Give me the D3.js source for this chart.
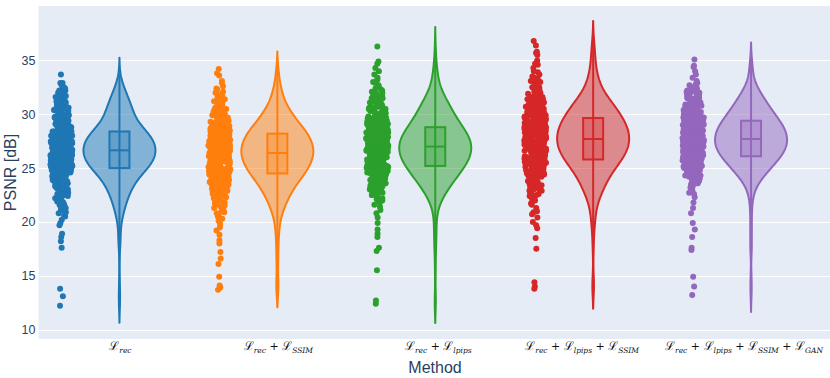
<!DOCTYPE html>
<html>
<head>
<meta charset="utf-8">
<script src="https://cdn.jsdelivr.net/npm/d3@7"></script>
<style>
body { margin: 0; background: #fff; }
svg { display: block; }
</style>
</head>
<body>
<div id="chart"></div>
<script>
// method names: each is a sum of loss terms, drawn as subscripts of a script L
var methods = ["rec", "rec+SSIM", "rec+lpips", "rec+lpips+SSIM", "rec+lpips+SSIM+GAN"];
var colors = ["#1f77b4", "#ff7f0e", "#2ca02c", "#d62728", "#9467bd"];
var yTicks = [10, 15, 20, 25, 30, 35];

var psnrRec = [
  12.2, 13.1, 13.8, 17.6, 18.2, 18.6, 18.9, 19.7, 19.9,
  20.2, 20.5, 20.6, 20.8, 20.9,
  21.0, 21.1, 21.3, 21.4, 21.5, 21.6, 21.6, 21.7, 21.8, 21.9, 21.9,
  22.0, 22.1, 22.2, 22.3, 22.3, 22.4, 22.5, 22.5, 22.6, 22.6, 22.7, 22.7, 22.8, 22.8, 22.9, 22.9,
  23.0, 23.0, 23.1, 23.1, 23.2, 23.2, 23.2, 23.3, 23.3, 23.4, 23.4, 23.4, 23.5, 23.5, 23.6, 23.6, 23.6, 23.7, 23.7,
  23.8, 23.8, 23.8, 23.9, 23.9,
  24.0, 24.0, 24.0, 24.1, 24.1, 24.1, 24.1, 24.2, 24.2, 24.2, 24.2, 24.3, 24.3, 24.3, 24.3, 24.3, 24.4, 24.4, 24.4, 24.4,
  24.5, 24.5, 24.5, 24.6, 24.6, 24.6, 24.6, 24.7, 24.7, 24.7, 24.7, 24.7, 24.8, 24.8, 24.8, 24.8, 24.9, 24.9, 24.9, 24.9,
  25.0, 25.0, 25.0, 25.0, 25.0, 25.1, 25.1, 25.1, 25.1, 25.1, 25.1, 25.2, 25.2, 25.2, 25.2, 25.2, 25.2,
  25.3, 25.3, 25.3, 25.3, 25.3, 25.3, 25.3, 25.4, 25.4, 25.4, 25.4, 25.4, 25.4, 25.5, 25.5, 25.5, 25.5, 25.5,
  25.6, 25.6, 25.6, 25.6, 25.6, 25.6, 25.7, 25.7, 25.7, 25.7, 25.7, 25.7, 25.7, 25.8, 25.8, 25.8, 25.8, 25.8, 25.8,
  25.9, 25.9, 25.9, 25.9, 25.9, 25.9,
  26.0, 26.0, 26.0, 26.0, 26.0, 26.0, 26.1, 26.1, 26.1, 26.1, 26.1, 26.1, 26.1, 26.2, 26.2, 26.2, 26.2, 26.2, 26.2, 26.2,
  26.3, 26.3, 26.3, 26.3, 26.3, 26.3, 26.4, 26.4, 26.4, 26.4, 26.4, 26.4, 26.4, 26.5, 26.5, 26.5, 26.5, 26.5, 26.5,
  26.6, 26.6, 26.6, 26.6, 26.6, 26.6, 26.6, 26.7, 26.7, 26.7, 26.7, 26.7, 26.7, 26.7, 26.8, 26.8, 26.8, 26.8, 26.8, 26.8,
  26.9, 26.9, 26.9, 26.9, 26.9, 26.9, 26.9,
  27.0, 27.0, 27.0, 27.0, 27.0, 27.0, 27.0, 27.1, 27.1, 27.1, 27.1, 27.1, 27.1, 27.2, 27.2, 27.2, 27.2, 27.2, 27.2, 27.2,
  27.3, 27.3, 27.3, 27.3, 27.3, 27.3, 27.4, 27.4, 27.4, 27.4, 27.4, 27.4, 27.5, 27.5, 27.5, 27.5, 27.5, 27.5, 27.5,
  27.6, 27.6, 27.6, 27.6, 27.6, 27.6, 27.7, 27.7, 27.7, 27.7, 27.7, 27.7, 27.8, 27.8, 27.8, 27.8, 27.8, 27.8, 27.8,
  27.9, 27.9, 27.9, 27.9, 27.9, 27.9,
  28.0, 28.0, 28.0, 28.0, 28.0, 28.1, 28.1, 28.1, 28.1, 28.1, 28.2, 28.2, 28.2, 28.2, 28.2, 28.3, 28.3, 28.3, 28.3, 28.3,
  28.4, 28.4, 28.4, 28.4, 28.4, 28.5, 28.5, 28.5, 28.5, 28.5, 28.6, 28.6, 28.6, 28.6, 28.6, 28.7, 28.7, 28.7, 28.7,
  28.8, 28.8, 28.8, 28.8, 28.9, 28.9, 28.9, 28.9, 28.9,
  29.0, 29.0, 29.0, 29.1, 29.1, 29.1, 29.2, 29.2, 29.2, 29.3, 29.3, 29.3, 29.4, 29.4, 29.4, 29.5, 29.5, 29.5,
  29.6, 29.6, 29.7, 29.7, 29.7, 29.8, 29.8, 29.9, 29.9, 29.9,
  30.0, 30.0, 30.0, 30.1, 30.1, 30.2, 30.2, 30.2, 30.3, 30.3, 30.4, 30.4, 30.4, 30.5, 30.5, 30.6, 30.6, 30.6,
  30.7, 30.7, 30.8, 30.8, 30.9, 30.9,
  31.0, 31.0, 31.1, 31.1, 31.2, 31.2, 31.3, 31.4, 31.4, 31.5, 31.5, 31.6, 31.7, 31.7, 31.8, 31.9,
  32.0, 32.1, 32.2, 32.2, 32.3, 32.4, 32.5, 32.7, 32.9, 32.9,
  33.7
];
var psnrRecSsim = [
  13.7, 13.9, 14.1, 14.9, 16.1, 16.6, 17.2, 18.0, 18.3, 18.8, 19.2, 19.5, 19.8,
  20.1, 20.3, 20.5, 20.6, 20.8, 20.9,
  21.0, 21.1, 21.2, 21.3, 21.4, 21.5, 21.6, 21.6, 21.7, 21.8, 21.9, 21.9,
  22.0, 22.0, 22.1, 22.2, 22.2, 22.3, 22.3, 22.4, 22.4, 22.4, 22.5, 22.5, 22.6, 22.6, 22.7, 22.7, 22.8, 22.8,
  22.9, 22.9,
  23.0, 23.0, 23.0, 23.1, 23.1, 23.1, 23.2, 23.2, 23.2, 23.3, 23.3, 23.4, 23.4, 23.4, 23.5, 23.5, 23.5,
  23.6, 23.6, 23.6, 23.6, 23.7, 23.7, 23.7, 23.8, 23.8, 23.8, 23.9, 23.9, 23.9,
  24.0, 24.0, 24.0, 24.0, 24.1, 24.1, 24.1, 24.1, 24.1, 24.2, 24.2, 24.2, 24.2, 24.3, 24.3, 24.3, 24.3, 24.3,
  24.4, 24.4, 24.4, 24.4, 24.4, 24.5, 24.5, 24.5, 24.5, 24.6, 24.6, 24.6, 24.6, 24.6, 24.7, 24.7, 24.7, 24.7, 24.7,
  24.8, 24.8, 24.8, 24.8, 24.9, 24.9, 24.9, 24.9, 24.9,
  25.0, 25.0, 25.0, 25.0, 25.0, 25.1, 25.1, 25.1, 25.1, 25.1, 25.1, 25.2, 25.2, 25.2, 25.2, 25.2,
  25.3, 25.3, 25.3, 25.3, 25.3, 25.3, 25.4, 25.4, 25.4, 25.4, 25.4, 25.4, 25.5, 25.5, 25.5, 25.5, 25.5,
  25.6, 25.6, 25.6, 25.6, 25.6, 25.6, 25.7, 25.7, 25.7, 25.7, 25.7, 25.7, 25.8, 25.8, 25.8, 25.8, 25.8,
  25.9, 25.9, 25.9, 25.9, 25.9, 25.9,
  26.0, 26.0, 26.0, 26.0, 26.0, 26.0, 26.1, 26.1, 26.1, 26.1, 26.1, 26.1, 26.2, 26.2, 26.2, 26.2, 26.2, 26.2, 26.2,
  26.3, 26.3, 26.3, 26.3, 26.3, 26.3, 26.4, 26.4, 26.4, 26.4, 26.4, 26.4, 26.5, 26.5, 26.5, 26.5, 26.5, 26.5,
  26.6, 26.6, 26.6, 26.6, 26.6, 26.6, 26.6, 26.7, 26.7, 26.7, 26.7, 26.7, 26.7, 26.8, 26.8, 26.8, 26.8, 26.8, 26.8,
  26.9, 26.9, 26.9, 26.9, 26.9, 26.9,
  27.0, 27.0, 27.0, 27.0, 27.0, 27.0, 27.1, 27.1, 27.1, 27.1, 27.1, 27.1, 27.2, 27.2, 27.2, 27.2, 27.2, 27.2,
  27.3, 27.3, 27.3, 27.3, 27.3, 27.3, 27.4, 27.4, 27.4, 27.4, 27.4, 27.5, 27.5, 27.5, 27.5, 27.5, 27.5,
  27.6, 27.6, 27.6, 27.6, 27.6, 27.6, 27.7, 27.7, 27.7, 27.7, 27.7, 27.7, 27.8, 27.8, 27.8, 27.8, 27.8,
  27.9, 27.9, 27.9, 27.9, 27.9, 27.9,
  28.0, 28.0, 28.0, 28.0, 28.0, 28.1, 28.1, 28.1, 28.1, 28.1, 28.2, 28.2, 28.2, 28.2, 28.2, 28.3, 28.3, 28.3, 28.3, 28.3,
  28.4, 28.4, 28.4, 28.4, 28.4, 28.5, 28.5, 28.5, 28.5, 28.5, 28.6, 28.6, 28.6, 28.6, 28.6, 28.7, 28.7, 28.7, 28.7,
  28.8, 28.8, 28.8, 28.8, 28.9, 28.9, 28.9, 28.9, 28.9,
  29.0, 29.0, 29.0, 29.0, 29.1, 29.1, 29.1, 29.2, 29.2, 29.2, 29.2, 29.3, 29.3, 29.3, 29.4, 29.4, 29.4,
  29.5, 29.5, 29.5, 29.6, 29.6, 29.6, 29.7, 29.7, 29.8, 29.8, 29.8, 29.9, 29.9, 29.9,
  30.0, 30.0, 30.0, 30.1, 30.1, 30.2, 30.2, 30.3, 30.3, 30.4, 30.4, 30.5, 30.5, 30.6, 30.6, 30.7, 30.7, 30.8, 30.8,
  30.9,
  31.0, 31.1, 31.2, 31.3, 31.4, 31.5, 31.6, 31.7, 31.8, 31.9,
  32.0, 32.1, 32.3, 32.4, 32.6, 32.9,
  33.1, 33.6, 33.8, 34.2
];
var psnrRecLpips = [
  12.4, 12.7, 15.5, 17.3, 17.6, 18.6, 18.9, 19.3, 19.9,
  20.4, 20.8,
  21.1, 21.4, 21.6, 21.8, 21.9,
  22.0, 22.1, 22.2, 22.3, 22.3, 22.4, 22.5, 22.5, 22.6, 22.7, 22.7, 22.8, 22.9, 22.9,
  23.0, 23.0, 23.1, 23.1, 23.1, 23.2, 23.2, 23.3, 23.3, 23.3, 23.4, 23.4, 23.4, 23.5, 23.5, 23.6, 23.6, 23.6,
  23.7, 23.7, 23.7, 23.8, 23.8, 23.9, 23.9, 23.9,
  24.0, 24.0, 24.0, 24.1, 24.1, 24.1, 24.1, 24.2, 24.2, 24.2, 24.2, 24.3, 24.3, 24.3, 24.3, 24.3, 24.4, 24.4, 24.4, 24.4,
  24.5, 24.5, 24.5, 24.5, 24.6, 24.6, 24.6, 24.6, 24.7, 24.7, 24.7, 24.7, 24.8, 24.8, 24.8, 24.8, 24.9, 24.9, 24.9, 24.9,
  25.0, 25.0, 25.0, 25.0, 25.0, 25.1, 25.1, 25.1, 25.1, 25.1, 25.2, 25.2, 25.2, 25.2, 25.2, 25.2,
  25.3, 25.3, 25.3, 25.3, 25.3, 25.4, 25.4, 25.4, 25.4, 25.4, 25.4, 25.5, 25.5, 25.5, 25.5, 25.5,
  25.6, 25.6, 25.6, 25.6, 25.6, 25.6, 25.7, 25.7, 25.7, 25.7, 25.7, 25.8, 25.8, 25.8, 25.8, 25.8, 25.8,
  25.9, 25.9, 25.9, 25.9, 25.9,
  26.0, 26.0, 26.0, 26.0, 26.0, 26.0, 26.1, 26.1, 26.1, 26.1, 26.1, 26.1, 26.2, 26.2, 26.2, 26.2, 26.2, 26.2, 26.2,
  26.3, 26.3, 26.3, 26.3, 26.3, 26.3, 26.4, 26.4, 26.4, 26.4, 26.4, 26.4, 26.5, 26.5, 26.5, 26.5, 26.5, 26.5,
  26.6, 26.6, 26.6, 26.6, 26.6, 26.6, 26.6, 26.7, 26.7, 26.7, 26.7, 26.7, 26.7, 26.8, 26.8, 26.8, 26.8, 26.8, 26.8,
  26.9, 26.9, 26.9, 26.9, 26.9, 26.9,
  27.0, 27.0, 27.0, 27.0, 27.0, 27.0, 27.1, 27.1, 27.1, 27.1, 27.1, 27.1, 27.1, 27.2, 27.2, 27.2, 27.2, 27.2, 27.2,
  27.3, 27.3, 27.3, 27.3, 27.3, 27.3, 27.4, 27.4, 27.4, 27.4, 27.4, 27.4, 27.5, 27.5, 27.5, 27.5, 27.5, 27.5, 27.5,
  27.6, 27.6, 27.6, 27.6, 27.6, 27.6, 27.7, 27.7, 27.7, 27.7, 27.7, 27.7, 27.8, 27.8, 27.8, 27.8, 27.8, 27.8,
  27.9, 27.9, 27.9, 27.9, 27.9, 27.9,
  28.0, 28.0, 28.0, 28.0, 28.0, 28.0, 28.1, 28.1, 28.1, 28.1, 28.1, 28.2, 28.2, 28.2, 28.2, 28.2, 28.3, 28.3, 28.3, 28.3,
  28.3, 28.4, 28.4, 28.4, 28.4, 28.4, 28.4, 28.5, 28.5, 28.5, 28.5, 28.5, 28.6, 28.6, 28.6, 28.6, 28.6,
  28.7, 28.7, 28.7, 28.7, 28.7, 28.8, 28.8, 28.8, 28.8, 28.8, 28.9, 28.9, 28.9, 28.9, 28.9,
  29.0, 29.0, 29.0, 29.0, 29.1, 29.1, 29.1, 29.1, 29.2, 29.2, 29.2, 29.2, 29.3, 29.3, 29.3, 29.4, 29.4, 29.4, 29.4,
  29.5, 29.5, 29.5, 29.6, 29.6, 29.6, 29.6, 29.7, 29.7, 29.7, 29.8, 29.8, 29.8, 29.8, 29.9, 29.9, 29.9,
  30.0, 30.0, 30.0, 30.1, 30.1, 30.1, 30.2, 30.2, 30.2, 30.3, 30.3, 30.3, 30.4, 30.4, 30.4, 30.5, 30.5, 30.5,
  30.6, 30.6, 30.6, 30.7, 30.7, 30.7, 30.8, 30.8, 30.9, 30.9,
  31.0, 31.0, 31.1, 31.1, 31.2, 31.2, 31.3, 31.3, 31.4, 31.4, 31.5, 31.5, 31.6, 31.6, 31.7, 31.7, 31.8, 31.9,
  32.0, 32.1, 32.2, 32.3, 32.4, 32.6, 32.7, 32.9,
  33.0, 33.2, 33.4, 33.7, 34.0, 34.3, 34.7, 34.9, 36.3
];
var psnrRecLpipsSsim = [
  13.8, 14.0, 14.4, 17.5, 18.5, 19.4, 19.7,
  20.0, 20.4, 20.7, 20.9,
  21.0, 21.3, 21.6, 21.7, 21.9,
  22.0, 22.1, 22.3, 22.4, 22.5, 22.5, 22.6, 22.7, 22.8, 22.8, 22.9, 22.9,
  23.0, 23.0, 23.1, 23.1, 23.2, 23.2, 23.3, 23.4, 23.4, 23.5, 23.5, 23.6, 23.6, 23.7, 23.8, 23.8, 23.9, 23.9,
  24.0, 24.0, 24.0, 24.1, 24.1, 24.1, 24.2, 24.2, 24.2, 24.3, 24.3, 24.4, 24.4, 24.4, 24.5, 24.5, 24.5,
  24.6, 24.6, 24.6, 24.7, 24.7, 24.8, 24.8, 24.8, 24.9, 24.9, 24.9,
  25.0, 25.0, 25.0, 25.0, 25.1, 25.1, 25.1, 25.1, 25.2, 25.2, 25.2, 25.2, 25.3, 25.3, 25.3, 25.3,
  25.4, 25.4, 25.4, 25.4, 25.4, 25.5, 25.5, 25.5, 25.5, 25.6, 25.6, 25.6, 25.6, 25.7, 25.7, 25.7, 25.7,
  25.8, 25.8, 25.8, 25.8, 25.8, 25.9, 25.9, 25.9, 25.9,
  26.0, 26.0, 26.0, 26.0, 26.0, 26.1, 26.1, 26.1, 26.1, 26.1, 26.1, 26.2, 26.2, 26.2, 26.2, 26.2,
  26.3, 26.3, 26.3, 26.3, 26.3, 26.3, 26.4, 26.4, 26.4, 26.4, 26.4, 26.5, 26.5, 26.5, 26.5, 26.5, 26.5,
  26.6, 26.6, 26.6, 26.6, 26.6, 26.7, 26.7, 26.7, 26.7, 26.7, 26.7, 26.8, 26.8, 26.8, 26.8, 26.8,
  26.9, 26.9, 26.9, 26.9, 26.9,
  27.0, 27.0, 27.0, 27.0, 27.0, 27.0, 27.1, 27.1, 27.1, 27.1, 27.1, 27.1, 27.2, 27.2, 27.2, 27.2, 27.2, 27.2, 27.2,
  27.3, 27.3, 27.3, 27.3, 27.3, 27.3, 27.4, 27.4, 27.4, 27.4, 27.4, 27.5, 27.5, 27.5, 27.5, 27.5, 27.5,
  27.6, 27.6, 27.6, 27.6, 27.6, 27.6, 27.7, 27.7, 27.7, 27.7, 27.7, 27.7, 27.8, 27.8, 27.8, 27.8, 27.8, 27.8,
  27.9, 27.9, 27.9, 27.9, 27.9, 27.9,
  28.0, 28.0, 28.0, 28.0, 28.0, 28.0, 28.1, 28.1, 28.1, 28.1, 28.1, 28.1, 28.2, 28.2, 28.2, 28.2, 28.2, 28.2,
  28.3, 28.3, 28.3, 28.3, 28.3, 28.4, 28.4, 28.4, 28.4, 28.4, 28.4, 28.5, 28.5, 28.5, 28.5, 28.5, 28.5,
  28.6, 28.6, 28.6, 28.6, 28.6, 28.6, 28.7, 28.7, 28.7, 28.7, 28.7, 28.8, 28.8, 28.8, 28.8, 28.8, 28.8,
  28.9, 28.9, 28.9, 28.9, 28.9, 28.9,
  29.0, 29.0, 29.0, 29.0, 29.0, 29.1, 29.1, 29.1, 29.1, 29.1, 29.1, 29.2, 29.2, 29.2, 29.2, 29.2,
  29.3, 29.3, 29.3, 29.3, 29.3, 29.4, 29.4, 29.4, 29.4, 29.5, 29.5, 29.5, 29.5, 29.5,
  29.6, 29.6, 29.6, 29.6, 29.6, 29.7, 29.7, 29.7, 29.7, 29.7, 29.8, 29.8, 29.8, 29.8, 29.8,
  29.9, 29.9, 29.9, 29.9, 29.9,
  30.0, 30.0, 30.0, 30.0, 30.1, 30.1, 30.1, 30.1, 30.2, 30.2, 30.2, 30.2, 30.3, 30.3, 30.3, 30.3,
  30.4, 30.4, 30.4, 30.4, 30.5, 30.5, 30.5, 30.5, 30.6, 30.6, 30.6, 30.7, 30.7, 30.7, 30.7, 30.8, 30.8, 30.8, 30.8,
  30.9, 30.9, 30.9,
  31.0, 31.0, 31.0, 31.1, 31.1, 31.1, 31.2, 31.2, 31.2, 31.3, 31.3, 31.3, 31.4, 31.4, 31.5, 31.5, 31.5,
  31.6, 31.6, 31.6, 31.7, 31.7, 31.8, 31.8, 31.9, 31.9,
  32.0, 32.1, 32.2, 32.3, 32.4, 32.5, 32.5, 32.6, 32.7, 32.8, 32.9, 32.9,
  33.0, 33.1, 33.3, 33.4, 33.5, 33.7, 33.9, 34.0, 34.3, 34.6, 34.7, 35.0, 35.5, 35.7, 35.8, 36.4, 36.8
];
var psnrRecLpipsSsimGan = [
  13.2, 14.0, 14.9, 17.4, 17.6, 18.6, 19.3, 19.9,
  20.8, 21.3, 21.8,
  22.3, 22.6, 22.7, 22.9,
  23.0, 23.2, 23.3, 23.5, 23.6, 23.6, 23.7, 23.8, 23.9, 23.9,
  24.0, 24.0, 24.1, 24.1, 24.2, 24.2, 24.2, 24.3, 24.3, 24.4, 24.4, 24.4, 24.5, 24.5, 24.6, 24.6, 24.6,
  24.7, 24.7, 24.7, 24.8, 24.8, 24.8, 24.9, 24.9, 24.9,
  25.0, 25.0, 25.0, 25.0, 25.1, 25.1, 25.1, 25.1, 25.2, 25.2, 25.2, 25.2, 25.3, 25.3, 25.3, 25.3, 25.3,
  25.4, 25.4, 25.4, 25.4, 25.5, 25.5, 25.5, 25.5, 25.6, 25.6, 25.6, 25.6, 25.6, 25.7, 25.7, 25.7, 25.7,
  25.8, 25.8, 25.8, 25.8, 25.8, 25.9, 25.9, 25.9, 25.9, 25.9,
  26.0, 26.0, 26.0, 26.0, 26.0, 26.1, 26.1, 26.1, 26.1, 26.1, 26.1, 26.2, 26.2, 26.2, 26.2, 26.2, 26.2,
  26.3, 26.3, 26.3, 26.3, 26.3, 26.3, 26.4, 26.4, 26.4, 26.4, 26.4, 26.4, 26.4, 26.5, 26.5, 26.5, 26.5, 26.5, 26.5,
  26.6, 26.6, 26.6, 26.6, 26.6, 26.6, 26.7, 26.7, 26.7, 26.7, 26.7, 26.7, 26.8, 26.8, 26.8, 26.8, 26.8, 26.8,
  26.9, 26.9, 26.9, 26.9, 26.9, 26.9,
  27.0, 27.0, 27.0, 27.0, 27.0, 27.0, 27.0, 27.1, 27.1, 27.1, 27.1, 27.1, 27.1, 27.1, 27.2, 27.2, 27.2, 27.2, 27.2,
  27.2, 27.2, 27.3, 27.3, 27.3, 27.3, 27.3, 27.3, 27.4, 27.4, 27.4, 27.4, 27.4, 27.4, 27.4,
  27.5, 27.5, 27.5, 27.5, 27.5, 27.5, 27.5, 27.6, 27.6, 27.6, 27.6, 27.6, 27.6, 27.6, 27.7, 27.7, 27.7, 27.7, 27.7,
  27.7, 27.8, 27.8, 27.8, 27.8, 27.8, 27.8, 27.8, 27.9, 27.9, 27.9, 27.9, 27.9, 27.9, 27.9,
  28.0, 28.0, 28.0, 28.0, 28.0, 28.0, 28.1, 28.1, 28.1, 28.1, 28.1, 28.1, 28.1, 28.2, 28.2, 28.2, 28.2, 28.2, 28.2,
  28.3, 28.3, 28.3, 28.3, 28.3, 28.3, 28.4, 28.4, 28.4, 28.4, 28.4, 28.4, 28.4, 28.5, 28.5, 28.5, 28.5, 28.5, 28.5,
  28.6, 28.6, 28.6, 28.6, 28.6, 28.6, 28.7, 28.7, 28.7, 28.7, 28.7, 28.7, 28.7, 28.8, 28.8, 28.8, 28.8, 28.8, 28.8,
  28.9, 28.9, 28.9, 28.9, 28.9, 28.9, 28.9,
  29.0, 29.0, 29.0, 29.0, 29.0, 29.0, 29.1, 29.1, 29.1, 29.1, 29.1, 29.2, 29.2, 29.2, 29.2, 29.2, 29.3, 29.3, 29.3,
  29.3, 29.3, 29.4, 29.4, 29.4, 29.4, 29.4, 29.5, 29.5, 29.5, 29.5, 29.5, 29.6, 29.6, 29.6, 29.6, 29.6,
  29.7, 29.7, 29.7, 29.7, 29.7, 29.8, 29.8, 29.8, 29.8, 29.8, 29.9, 29.9, 29.9, 29.9, 29.9,
  30.0, 30.0, 30.0, 30.0, 30.1, 30.1, 30.1, 30.1, 30.2, 30.2, 30.2, 30.2, 30.3, 30.3, 30.3, 30.4, 30.4, 30.4, 30.4,
  30.5, 30.5, 30.5, 30.6, 30.6, 30.6, 30.6, 30.7, 30.7, 30.7, 30.8, 30.8, 30.8, 30.8, 30.9, 30.9, 30.9,
  31.0, 31.0, 31.0, 31.1, 31.1, 31.1, 31.2, 31.2, 31.3, 31.3, 31.3, 31.4, 31.4, 31.5, 31.5, 31.5, 31.6, 31.6,
  31.7, 31.7, 31.8, 31.8, 31.9, 31.9,
  32.0, 32.1, 32.1, 32.2, 32.2, 32.3, 32.4, 32.5, 32.6, 32.7, 32.8, 32.9,
  33.1, 33.4, 33.7, 34.0, 34.4, 34.5, 35.1
];
var series = [psnrRec, psnrRecSsim, psnrRecLpips, psnrRecLpipsSsim, psnrRecLpipsSsimGan];
// kde bandwidth of each violin
var bandwidths = [0.78, 0.82, 0.9, 0.93, 0.78];
// horizontal nudge of the typeset tick labels, as placed in the original
var labelNudge = [1, 1, 3, -11, -7];

var width = 830, height = 378;
var margin = {top: 6, right: 0, bottom: 39, left: 40};

var svg = d3.select("#chart").append("svg")
    .attr("width", width)
    .attr("height", height);

var x = d3.scaleBand().domain(methods).range([margin.left + 0.5, width]);
var y = d3.scaleLinear().domain([9.12, 40.06]).range([height - margin.bottom, margin.top]);

svg.append("rect")
    .attr("x", margin.left - 1.5)
    .attr("y", margin.top)
    .attr("width", width - margin.left + 1.5)
    .attr("height", height - margin.bottom - margin.top)
    .attr("fill", "#e5ecf6");

// grid
svg.append("g")
    .selectAll("line")
    .data(yTicks)
    .enter().append("line")
    .attr("x1", margin.left - 1.5)
    .attr("x2", width)
    .attr("y1", function(d) { return Math.round(y(d)) + 0.5; })
    .attr("y2", function(d) { return Math.round(y(d)) + 0.5; })
    .attr("stroke", "#fff")
    .attr("stroke-width", 1);

var yAxis = svg.append("g")
    .attr("transform", "translate(" + (margin.left - 1.5) + ",0)")
    .call(d3.axisLeft(y).tickValues(yTicks).tickSize(0).tickPadding(3));
yAxis.select(".domain").remove();
yAxis.selectAll("text")
    .attr("fill", "#2a3f5f")
    .style("font-family", "'Liberation Sans', Arial, sans-serif")
    .style("font-size", "12.5px");

svg.append("text")
    .attr("transform", "translate(16," + ((margin.top + height - margin.bottom) / 2) + ") rotate(-90)")
    .attr("text-anchor", "middle")
    .attr("fill", "#2a3f5f")
    .style("font-family", "'Liberation Sans', Arial, sans-serif")
    .style("font-size", "16px")
    .text("PSNR [dB]");

svg.append("text")
    .attr("x", (margin.left + width) / 2)
    .attr("y", 373)
    .attr("text-anchor", "middle")
    .attr("fill", "#2a3f5f")
    .style("font-family", "'Liberation Sans', Arial, sans-serif")
    .style("font-size", "16px")
    .text("Method");

// category labels, L with italic subscripts
var xAxis = svg.append("g")
    .attr("transform", "translate(0," + (height - margin.bottom) + ")")
    .call(d3.axisBottom(x).tickSize(0).tickFormat(function() { return ""; }));
xAxis.select(".domain").remove();
xAxis.selectAll(".tick").each(function(d, i) {
    var t = d3.select(this).append("text")
        .attr("x", labelNudge[i])
        .attr("y", 11)
        .attr("text-anchor", "middle")
        .attr("fill", "#111")
        .style("font-family", "'DejaVu Serif', serif");
    d.split("+").forEach(function(term, k) {
        if (k > 0) {
            t.append("tspan").attr("dy", -3).style("font-size", "11px").text(" + ");
        }
        t.append("tspan").style("font-size", "12px").text("\u2112");
        t.append("tspan").attr("dy", 3).style("font-size", "7.5px").style("font-style", "italic").text(term);
    });
});

function kde(values, bw) {
    var n = values.length;
    var c = 1 / (n * bw * Math.sqrt(2 * Math.PI));
    return function(v) {
        var s = 0;
        for (var i = 0; i < n; i++) {
            var u = (v - values[i]) / bw;
            s += Math.exp(-0.5 * u * u);
        }
        return s * c;
    };
}

// deterministic jitter in [-0.5, 0.5]
function jit(i, g) {
    var s = Math.sin(i * 12.9898 + g * 78.233) * 43758.5453;
    return s - Math.floor(s) - 0.5;
}

var halfWidth = 36;
var pointShift = -58;

series.forEach(function(vals, g) {
    var color = colors[g];
    var cx = x(methods[g]) + x.bandwidth() / 2;
    var sorted = vals.slice().sort(d3.ascending);
    var bw = bandwidths[g];
    var dens = kde(sorted, bw);
    var lo = sorted[0] - 2 * bw, hi = sorted[sorted.length - 1] + 2 * bw;
    var grid = d3.range(0, 201).map(function(i) {
        var v = lo + (hi - lo) * i / 200;
        return {v: v, d: dens(v)};
    });
    var dmax = d3.max(grid, function(p) { return p.d; });
    var w = d3.scaleLinear().domain([0, dmax]).range([0, halfWidth]);

    var grp = svg.append("g").attr("class", "violin");

    grp.append("path")
        .datum(grid)
        .attr("d", d3.area()
            .x0(function(p) { return cx - w(p.d); })
            .x1(function(p) { return cx + w(p.d); })
            .y(function(p) { return y(p.v); }))
        .attr("fill", color)
        .attr("fill-opacity", 0.5)
        .attr("stroke", color)
        .attr("stroke-width", 2)
        .attr("stroke-linejoin", "round");

    var q1 = d3.quantile(sorted, 0.25),
        med = d3.quantile(sorted, 0.5),
        q3 = d3.quantile(sorted, 0.75);

    grp.append("line")
        .attr("x1", cx).attr("x2", cx)
        .attr("y1", y(sorted[0])).attr("y2", y(sorted[sorted.length - 1]))
        .attr("stroke", color)
        .attr("stroke-width", 2);

    grp.append("rect")
        .attr("x", cx - 10)
        .attr("width", 20)
        .attr("y", y(q3))
        .attr("height", y(q1) - y(q3))
        .attr("fill", color)
        .attr("fill-opacity", 0.3)
        .attr("stroke", color)
        .attr("stroke-width", 2);

    grp.append("line")
        .attr("x1", cx - 10).attr("x2", cx + 10)
        .attr("y1", y(med)).attr("y2", y(med))
        .attr("stroke", color)
        .attr("stroke-width", 2);

    // all points, jitter scaled by the local density
    grp.selectAll("circle")
        .data(vals)
        .enter().append("circle")
        .attr("cx", function(v, i) {
            var f = Math.sqrt(dens(v) / dmax);
            return cx + pointShift + jit(i, g) * 22 * Math.min(1, f * 1.15);
        })
        .attr("cy", function(v) { return y(v); })
        .attr("r", 3)
        .attr("fill", color);
});
</script>
</body>
</html>
